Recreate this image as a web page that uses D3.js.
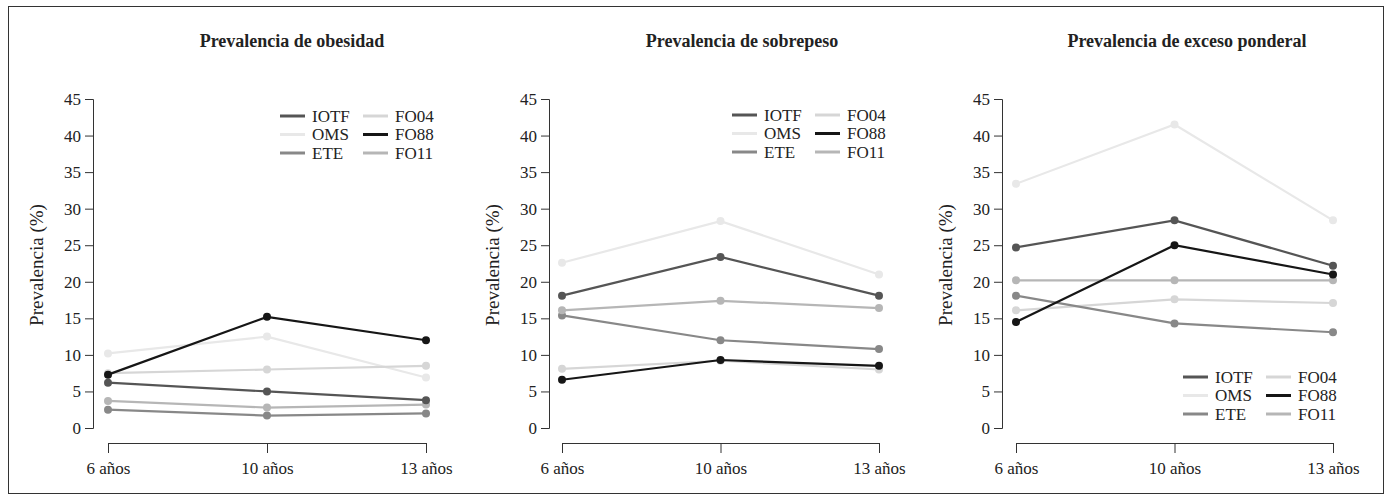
<!DOCTYPE html>
<html><head><meta charset="utf-8">
<script src="https://cdn.jsdelivr.net/npm/d3@7"></script>
<style>body{margin:0;background:#fff}svg{display:block}</style>
</head><body><svg id="c" width="1389" height="499" style="font-family:'Liberation Serif','DejaVu Serif','Noto Serif','Times New Roman',Times,serif"></svg>
<script>
const FONT = "'Liberation Serif','DejaVu Serif','Noto Serif','Times New Roman',Times,serif";
const categories = ["6 años", "10 años", "13 años"];
const seriesNames = ["IOTF", "OMS", "ETE", "FO04", "FO88", "FO11"];
const yTicks = [0, 5, 10, 15, 20, 25, 30, 35, 40, 45];
const panelTitles = ["Prevalencia de obesidad", "Prevalencia de sobrepeso", "Prevalencia de exceso ponderal"];
// values per panel, per series [6, 10, 13 años]
const obesidad = {IOTF:[6.2,5.0,3.8], OMS:[10.2,12.5,6.9], ETE:[2.5,1.7,2.0], FO04:[7.5,8.0,8.5], FO88:[7.3,15.2,12.0], FO11:[3.7,2.8,3.2]};
const sobrepeso = {IOTF:[18.1,23.4,18.1], OMS:[22.6,28.3,21.0], ETE:[15.4,12.0,10.8], FO04:[8.1,9.2,8.0], FO88:[6.6,9.3,8.5], FO11:[16.1,17.4,16.4]};
const exceso = {IOTF:[24.7,28.4,22.2], OMS:[33.4,41.5,28.4], ETE:[18.1,14.3,13.1], FO04:[16.1,17.6,17.1], FO88:[14.5,25.0,21.0], FO11:[20.2,20.2,20.2]};
const panelData = [obesidad, sobrepeso, exceso];

const colors = {IOTF:"#555555", OMS:"#e8e8e8", ETE:"#888888", FO04:"#d6d6d6", FO88:"#161616", FO11:"#b6b6b6"};
const drawOrder = ["OMS","FO04","ETE","FO11","IOTF","FO88"];

const svg = d3.select("#c");
svg.append("rect").attr("x",8.5).attr("y",6.5).attr("width",1375).attr("height",487)
  .attr("fill","none").attr("stroke","#333").attr("stroke-width",1);

const panels = [
  {ax:93, x0:108, x1:426, tx:292, legend:{x:280, y:116}},
  {ax:549, x0:562, x1:879, tx:742, legend:{x:732, y:115}},
  {ax:1002, x0:1016, x1:1333, tx:1187, legend:{x:1183, y:377}}
];
const y = d3.scaleLinear().domain([0,45]).range([428,99]);

function txt(sel){ return sel.attr("font-family",FONT).attr("fill","#222"); }

panels.forEach((p,i)=>{
  const g = svg.append("g");
  const x = d3.scalePoint().domain(categories).range([p.x0,p.x1]);
  txt(g.append("text")).attr("x",p.tx).attr("y",47).attr("text-anchor","middle")
    .attr("font-weight","bold").attr("font-size",18).text(panelTitles[i]);
  const ya = g.append("g").attr("transform",`translate(${p.ax},0)`)
    .call(d3.axisLeft(y).tickValues(yTicks).tickSize(8).tickSizeOuter(8).tickPadding(4));
  ya.attr("font-family",FONT);
  ya.select(".domain").attr("stroke","#333");
  ya.selectAll(".tick line").attr("stroke","#333");
  txt(ya.selectAll(".tick text")).attr("font-size",17);
  const xa = g.append("g").attr("transform",`translate(0,443)`)
    .call(d3.axisBottom(x).tickSize(10).tickSizeOuter(0).tickPadding(9));
  xa.attr("font-family",FONT);
  xa.select(".domain").attr("stroke","#333").attr("d",`M${p.x0},0.5H${p.x1}`);
  xa.selectAll(".tick line").attr("stroke","#333");
  txt(xa.selectAll(".tick text")).attr("font-size",17);
  txt(g.append("text")).attr("transform",`translate(${p.ax-57},265) rotate(-90)`)
    .attr("text-anchor","middle").attr("font-size",19).attr("dy","0.35em").text("Prevalencia (%)");
  const line = d3.line().x((d,j)=>x(categories[j])).y(d=>y(d));
  const data = panelData[i];
  drawOrder.forEach(s=>{
    g.append("path").attr("d",line(data[s])).attr("fill","none")
      .attr("stroke",colors[s]).attr("stroke-width",2.2);
    g.selectAll(null).data(data[s]).enter().append("circle")
      .attr("cx",(d,j)=>x(categories[j])).attr("cy",d=>y(d)).attr("r",4)
      .attr("fill",colors[s]);
  });
  const lg = g.append("g").attr("transform",`translate(${p.legend.x},${p.legend.y})`);
  seriesNames.forEach((s,k)=>{
    const col = Math.floor(k/3), row = k%3;
    const gx = col*83, gy = row*18.5;
    lg.append("line").attr("x1",gx).attr("x2",gx+25).attr("y1",gy).attr("y2",gy)
      .attr("stroke",colors[s]).attr("stroke-width",3);
    txt(lg.append("text")).attr("x",gx+32).attr("y",gy).attr("dy","0.35em")
      .attr("font-size",17).text(s);
  });
});
</script></body></html>
